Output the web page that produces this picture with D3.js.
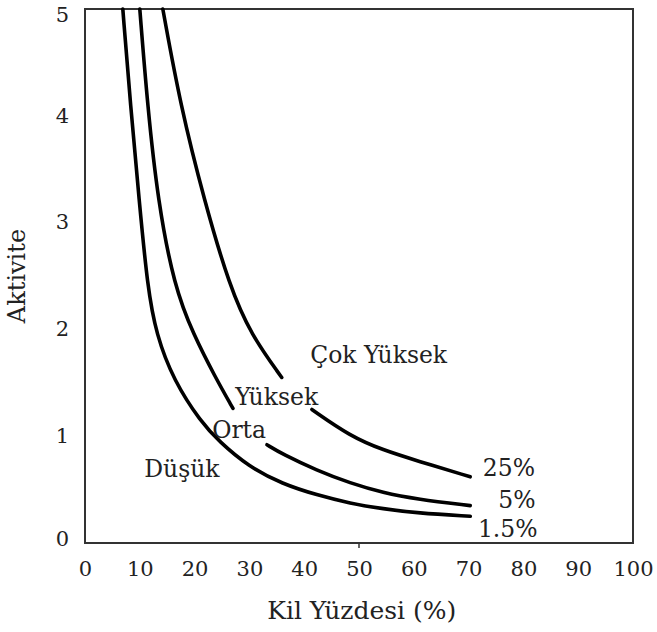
<!DOCTYPE html>
<html>
<head>
<meta charset="utf-8">
<script src="https://cdn.jsdelivr.net/npm/d3@7"></script>
<style>
  body { margin: 0; background: #fff; }
  text { font-family: "DejaVu Serif", serif; fill: #222; }
</style>
</head>
<body>
<svg id="chart" width="657" height="632"></svg>
<script>
// Kil yüzdesi (%) vs aktivite, swelling potential curves
const xTicks = [0, 10, 20, 30, 40, 50, 60, 70, 80, 90, 100];
const yTicks = [0, 1, 2, 3, 4, 5];

// each curve is split where a zone label sits on it
const curve15 = [
  [[6.9, 5.0], [8.3, 4.1], [9.9, 3.2], [11.4, 2.4], [13.0, 1.95], [16.2, 1.52],
   [21.2, 1.13], [24.5, 0.95], [29.7, 0.72], [36.1, 0.55], [42.3, 0.45],
   [48.4, 0.37], [54.4, 0.32], [60.6, 0.28], [70.3, 0.25]]
];
const curve5 = [
  [[10.0, 5.0], [11.4, 4.1], [13.3, 3.2], [16.3, 2.4], [19.8, 1.95],
   [23.8, 1.55], [27.0, 1.26]],
  [[33.2, 0.92], [36.1, 0.83], [42.3, 0.68], [48.4, 0.56], [54.4, 0.47],
   [60.6, 0.41], [70.3, 0.35]]
];
const curve25 = [
  [[14.2, 5.0], [17.4, 4.1], [21.8, 3.2], [26.4, 2.4], [30.3, 1.95],
   [35.9, 1.55]],
  [[41.4, 1.25], [48.4, 1.0], [54.4, 0.87], [60.6, 0.77], [70.3, 0.62]]
];
const curveNames = ["1.5%", "5%", "25%"];
const zoneNames = ["Düşük", "Orta", "Yüksek", "Çok Yüksek"];

// label anchors in data units (clay %, activity)
const zoneAt = [[10.8, 0.62], [23.2, 0.98], [27.4, 1.29], [41.1, 1.69]];
const curveLabelAt = [[71.7, 0.06], [75.4, 0.33], [72.6, 0.63]];

const margin = { top: 9, right: 24, bottom: 89, left: 85 },
    width = 657 - margin.left - margin.right,
    height = 632 - margin.top - margin.bottom;

const svg = d3.select("#chart");
const g = svg.append("g")
    .attr("transform", "translate(" + margin.left + "," + margin.top + ")");

const x = d3.scaleLinear().domain([0, 100]).range([0, width]);
const y = d3.scaleLinear().domain([0, 5]).range([height, 0]);

// frame
g.append("rect")
    .attr("width", width)
    .attr("height", height)
    .attr("fill", "none")
    .attr("stroke", "#333")
    .attr("stroke-width", 2);

// x axis labels
g.append("g")
    .attr("transform", "translate(0," + height + ")")
    .call(d3.axisBottom(x).tickValues(xTicks).tickFormat(d3.format("d"))
        .tickSize(0).tickPadding(18))
    .call(a => a.select(".domain").remove())
    .selectAll("text")
    .style("font-family", "DejaVu Serif, serif")
    .style("font-size", "21px")
    .attr("fill", "#222");

// lone tick at 50
g.append("line")
    .attr("x1", x(50)).attr("x2", x(50))
    .attr("y1", height).attr("y2", height + 5)
    .attr("stroke", "#333").attr("stroke-width", 1.5);

// y axis labels
g.append("g")
    .call(d3.axisLeft(y).tickValues(yTicks).tickFormat(d3.format("d"))
        .tickSize(0).tickPadding(16))
    .call(a => a.select(".domain").remove())
    .selectAll("text")
    .style("font-family", "DejaVu Serif, serif")
    .style("font-size", "21px")
    .attr("fill", "#222")
    .attr("dy", (d) => d === 5 ? "0.6em" : d === 0 ? "0.1em" : "0.3em");

// axis titles
g.append("text")
    .attr("x", x(50.5))
    .attr("y", height + 76)
    .attr("text-anchor", "middle")
    .style("font-size", "25px")
    .text("Kil Yüzdesi (%)");

g.append("text")
    .attr("transform", "translate(" + (-60) + "," + y(2.5) + ") rotate(-90)")
    .attr("text-anchor", "middle")
    .style("font-size", "24px")
    .text("Aktivite");

// curves
const line = d3.line()
    .x(d => x(d[0]))
    .y(d => y(d[1]))
    .curve(d3.curveBasis);

[curve15, curve5, curve25].forEach(parts => {
    g.append("g")
        .selectAll("path")
        .data(parts)
        .join("path")
        .attr("d", line)
        .attr("fill", "none")
        .attr("stroke", "#000")
        .attr("stroke-width", 3.6)
        .attr("stroke-linecap", "round");
});

// zone labels
g.append("g")
    .selectAll("text")
    .data(zoneNames)
    .join("text")
    .attr("x", (d, i) => x(zoneAt[i][0]))
    .attr("y", (d, i) => y(zoneAt[i][1]))
    .style("font-size", "23.5px")
    .text(d => d);

// curve end labels
g.append("g")
    .selectAll("text")
    .data(curveNames)
    .join("text")
    .attr("x", (d, i) => x(curveLabelAt[i][0]))
    .attr("y", (d, i) => y(curveLabelAt[i][1]))
    .style("font-size", "23.5px")
    .text(d => d);
</script>
</body>
</html>
